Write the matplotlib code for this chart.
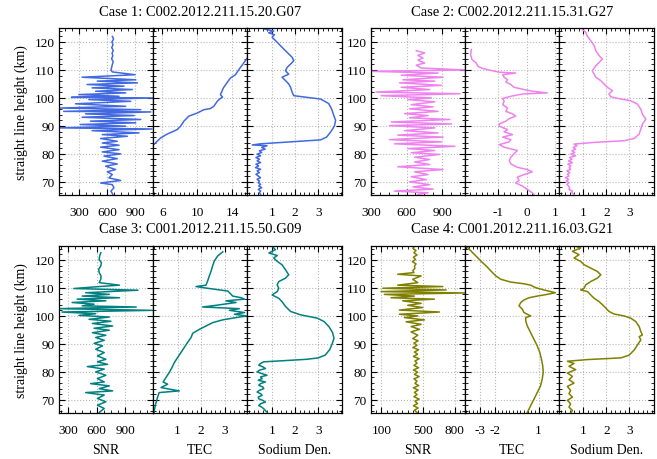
import matplotlib
matplotlib.use('Agg')
import matplotlib.pyplot as plt
from matplotlib.ticker import AutoMinorLocator, MultipleLocator

plt.rcParams['font.family'] = ['Liberation Serif', 'DejaVu Serif']
plt.rcParams['font.size'] = 9.5
plt.rcParams['axes.unicode_minus'] = False

# ---- Case 1: C002.2012.211.15.20.G07 ----
c1_snr_h = [122.0, 121.0, 120.0, 119.0, 118.0, 117.0, 116.0, 115.0, 114.0, 113.0, 112.0, 111.0, 110.0,
            109.3, 108.3, 107.4, 106.5, 106.0, 105.4, 104.8, 104.2, 103.6, 103.0, 102.4, 101.8, 101.2,
            100.6, 100.2, 100.0, 99.4, 98.8, 97.9, 97.0, 96.4, 95.8, 95.2, 95.0, 94.3, 93.7, 93.1, 92.3,
            91.7, 91.1, 90.5, 89.9, 89.3, 88.9, 88.3, 87.5, 86.9, 86.3, 85.5, 84.5, 83.9, 83.1, 82.4,
            81.5, 80.7, 80.0, 79.2, 78.3, 77.4, 76.4, 75.6, 74.4, 73.6, 72.6, 71.4, 70.5, 69.6, 69.0,
            67.9, 66.7, 65.5]
c1_snr = [655, 668, 650, 662, 648, 665, 652, 660, 646, 664, 655, 648, 640,
          654, 900, 329, 907, 492, 925, 383, 781, 437, 871, 474, 799, 293,
          727, 213, 1088, 401, 853, 257, 799, 94, 961, 130, 1070, 365, 889, 329, 961,
          419, 907, 311, 799, 90, 1081, 437, 943, 546, 817, 528, 708, 546, 727, 528,
          727, 546, 745, 564, 708, 546, 708, 582, 690, 600, 654, 618, 745, 528, 654,
          672, 640, 660]
c1_tec_h = [114.3, 112.5, 110.1, 108.3, 107.1, 105.4, 103.6, 101.2, 100.3, 99.7, 98.8, 97.0, 96.2,
            95.8, 94.6, 93.5, 91.7, 89.9, 88.7, 87.1, 85.7, 83.3]
c1_tec = [15.75, 15.33, 14.76, 14.38, 13.8, 13.4, 13.0, 12.66, 12.9, 12.6, 12.29, 11.9, 11.5,
          10.75, 10.0, 9.04, 8.47, 8.09, 7.71, 6.57, 5.8, 5.0]
c1_na_h = [124.7, 123.9, 123.3, 122.6, 121.7, 119.9, 118.1, 116.3, 114.5, 113.3, 112.1, 110.9,
           109.7, 108.5, 107.4, 106.2, 105.0, 103.8, 102.0, 100.8, 100.2, 99.6, 98.0, 96.0, 94.0,
           92.0, 90.0, 88.0, 86.0, 85.0, 84.3, 83.6, 83.2,
           82.9, 82.3, 81.7, 81.1, 80.5, 79.9, 79.3, 78.7, 78.1, 77.5, 76.9, 76.3, 75.7, 75.1,
           74.5, 73.9, 73.3, 72.7, 72.1, 71.5, 70.9, 70.3, 69.7, 69.1, 68.5, 67.9, 67.3, 66.7,
           66.1, 65.5]
c1_na = [0.64, 1.07, 0.85, 1.1, 1.0, 1.22, 1.43, 1.65, 1.87, 1.94, 1.8, 1.65,
         1.58, 1.72, 1.43, 1.58, 1.72, 1.8, 1.87, 1.94, 2.52, 3.1, 3.45, 3.58, 3.66,
         3.75, 3.7, 3.55, 3.36, 3.1, 1.8, 0.5, 0.14,
         0.78, 0.55, 0.7, 0.45, 0.55, 0.35, 0.5, 0.3, 0.45, 0.35, 0.5, 0.3, 0.42, 0.28,
         0.5, 0.35, 0.45, 0.3, 0.4, 0.5, 0.35, 0.45, 0.4, 0.5, 0.42, 0.55, 0.4, 0.5,
         0.45, 0.5]

# ---- Case 2: C002.2012.211.15.31.G27 ----
c2_snr_h = [116.9, 116.1, 115.2, 114.3, 113.5, 112.5, 111.7, 110.7, 110.0, 109.5, 108.9, 108.1,
            107.4, 106.5, 106.0, 105.4, 104.5, 103.8, 103.0, 102.1, 101.5, 100.8, 100.0, 99.4,
            98.6, 97.6, 96.8, 96.1, 95.2, 94.4, 93.7, 92.9, 92.3, 91.4, 90.7, 90.1, 89.3, 88.3,
            87.5, 86.7, 86.0, 85.1, 84.3, 83.6, 82.7, 81.9, 81.2, 80.4, 79.8, 78.8, 78.0, 77.1,
            76.2, 75.4, 74.4, 73.6, 72.6, 71.8, 70.8, 70.0, 69.0, 68.2, 67.4, 66.7, 66.1, 65.5]
c2_snr = [682, 753, 696, 739, 696, 753, 682, 724, 1092, 300, 866, 555,
          908, 569, 838, 541, 894, 555, 795, 342, 1050, 385, 809, 611,
          838, 640, 824, 625, 866, 583, 781, 625, 965, 470, 979, 456, 838, 583,
          866, 526, 908, 456, 894, 498, 1008, 611, 838, 640, 880, 668, 795, 668,
          795, 526, 908, 668, 781, 640, 767, 625, 795, 654, 824, 498, 781, 696]
c2_tec_h = [117.3, 115.5, 113.7, 112.5, 111.3, 110.5, 109.8, 109.2, 108.9, 108.3, 107.4, 106.5,
            105.7, 104.8, 103.8, 103.0, 102.4, 101.8, 101.4, 100.6, 99.8, 98.8, 97.6, 96.4,
            95.2, 94.3, 93.5, 92.6, 91.7, 90.7, 89.9, 88.7, 87.9, 86.9, 86.0, 85.1, 84.3, 83.3,
            82.4, 81.2, 80.0, 78.8, 77.6, 76.4, 75.2, 74.4, 73.6, 72.6, 71.7, 70.5, 69.6, 68.5,
            67.3, 66.1, 65.5]
c2_tec = [-1.96, -1.99, -1.94, -1.79, -1.73, -1.55, -1.26, -0.97, -0.39, -0.85, -0.8, -0.68,
          -0.74, -0.56, -0.45, -0.09, 0.2, 0.73, -0.15, -0.56, -0.85, -0.8, -0.85, -0.68,
          -0.74, -0.5, -0.39, -0.62, -0.74, -0.97, -0.97, -0.68, -0.8, -0.5, -0.85, -0.56, -0.62, -0.97,
          -0.8, -0.33, -0.45, -0.56, -0.62, -0.56, -0.33, 0.02, 0.2, -0.09, -0.33, -0.27, -0.39, -0.15,
          0.02, 0.2, 0.26]
c2_na_h = [124.4, 123.5, 122.0, 120.5, 118.7, 116.9, 115.1, 113.9, 112.7, 111.5, 109.7, 108.5,
           107.4, 106.2, 105.0, 103.8, 102.6, 101.4, 100.4, 99.6, 99.0, 97.8, 96.0, 94.2, 92.4,
           90.6, 88.9, 87.1, 85.5, 84.7, 84.1, 83.5,
           82.9, 82.3, 81.7, 81.1, 80.5, 79.9, 79.3, 78.7, 78.1, 77.5, 76.9, 76.3, 75.7, 75.1,
           74.5, 73.9, 73.3, 72.7, 72.1, 71.5, 70.9, 70.3, 69.7, 69.1, 68.5, 67.9, 67.3, 66.7,
           66.1, 65.5]
c2_na = [0.96, 1.1, 1.18, 1.32, 1.47, 1.54, 1.69, 1.83, 1.69, 1.54, 1.39, 1.47,
         1.54, 1.76, 1.9, 2.05, 2.27, 2.12, 2.2, 2.64, 3.07, 3.36, 3.51, 3.58, 3.73,
         3.58, 3.51, 3.44, 3.22, 2.78, 1.47, 0.59,
         0.72, 0.55, 0.66, 0.5, 0.62, 0.45, 0.66, 0.4, 0.5, 0.35, 0.52, 0.32, 0.45, 0.38,
         0.44, 0.28, 0.4, 0.3, 0.37, 0.22, 0.35, 0.25, 0.37, 0.28, 0.35, 0.4, 0.37, 0.52,
         0.5, 0.59]

# ---- Case 3: C001.2012.211.15.50.G09 ----
c3_snr_h = [122.6, 121.4, 120.2, 119.0, 117.9, 116.7, 115.5, 114.3, 113.1, 111.9, 111.0, 110.5,
            109.8, 109.2, 108.3, 107.7, 107.1, 106.5, 106.0, 105.4, 104.8, 104.2, 103.6, 103.2,
            102.6, 102.0, 101.4, 100.8, 100.2, 99.6, 98.8, 98.1, 97.3, 96.4, 95.6, 94.9, 94.0,
            93.1, 92.3, 91.3, 90.2, 89.3, 88.1, 86.9, 85.7, 84.5, 83.6, 82.7, 81.9, 81.0, 80.0,
            78.8, 77.6, 76.4, 75.8, 75.0, 74.0, 73.2, 72.6, 71.7, 70.5, 69.3, 68.1, 66.9, 65.5]
c3_snr = [642, 630, 625, 648, 642, 620, 625, 645, 642, 625, 837, 625,
          360, 1031, 484, 731, 448, 837, 395, 695, 342, 572, 448, 1013,
          201, 1180, 236, 589, 413, 731, 519, 748, 554, 766, 572, 731, 554,
          695, 589, 678, 572, 660, 589, 678, 607, 695, 607, 713, 501, 678, 589,
          695, 607, 678, 536, 731, 625, 766, 484, 678, 607, 695, 607, 678, 625]
c3_tec_h = [122.9, 121.4, 119.6, 117.9, 116.1, 114.3, 112.5, 111.0, 110.5, 109.8, 108.9, 108.3,
            107.1, 106.5, 106.0, 105.4, 104.8, 103.8, 103.2, 102.6, 102.0, 101.2, 100.6, 100.0,
            99.4, 98.6, 97.6, 96.4, 95.2, 93.8, 92.3, 90.5, 88.7, 86.9, 85.1, 83.3, 81.5, 79.8,
            78.0, 76.4, 75.6, 74.4, 73.2, 72.6, 70.8, 69.0, 67.3, 65.5]
c3_tec = [2.91, 2.69, 2.55, 2.48, 2.42, 2.34, 2.27, 2.2, 1.78, 2.34, 3.12, 3.19,
          3.33, 3.69, 3.83, 3.05, 3.47, 2.63, 2.06, 3.61, 3.19, 3.83, 3.4, 3.9,
          3.47, 2.91, 2.48, 2.2, 1.92, 1.64, 1.57, 1.42, 1.28, 1.14, 1.0, 0.86, 0.76, 0.65,
          0.51, 0.39, 0.58, 0.3, 1.07, 0.22, 0.15, 0.09, 0.04, 0.01]
c3_na_h = [124.9, 123.7, 122.5, 121.6, 120.7, 119.5, 118.3, 116.5, 114.7, 113.5, 112.3, 111.1,
           109.9, 108.7, 107.5, 106.3, 105.1, 103.4, 101.6, 100.4, 99.2, 98.0, 96.2, 94.0,
           92.0, 90.0, 88.0, 86.0, 85.0, 84.5, 84.0, 83.6,
           83.0, 82.4, 81.8, 81.2, 80.6, 80.0, 79.4, 78.8, 78.2, 77.6, 77.0, 76.4, 75.8, 75.2,
           74.6, 74.0, 73.4, 72.8, 72.2, 71.6, 71.0, 70.4, 69.8, 69.2, 68.6, 68.0, 67.4, 66.8,
           66.2, 65.6]
c3_na = [1.0, 1.14, 0.86, 1.22, 1.07, 1.22, 1.43, 1.58, 1.72, 1.58, 1.29, 1.22,
         1.29, 1.22, 1.0, 1.29, 1.43, 1.58, 1.8, 2.23, 2.96, 3.25, 3.46, 3.62,
         3.68, 3.6, 3.5, 3.3, 3.0, 2.5, 1.5, 0.64,
         0.5, 0.42, 0.6, 0.71, 0.45, 0.35, 0.55, 0.78, 0.5, 0.57, 0.4, 0.71, 0.5, 0.42,
         0.6, 0.64, 0.45, 0.35, 0.5, 0.57, 0.4, 0.42, 0.6, 0.71, 0.5, 0.42, 0.55, 0.64,
         0.7, 0.78]

# ---- Case 4: C001.2012.211.16.03.G21 ----
c4_snr_h = [125.0, 124.2, 123.4, 122.6, 121.8, 121.0, 120.2, 119.4, 118.6, 117.8, 117.0, 116.2,
            115.5, 114.9, 114.3, 113.1, 111.9, 111.0, 110.5, 109.9, 109.3, 108.7, 108.2, 107.7,
            107.1, 106.5, 106.0, 105.4, 104.5, 103.8, 103.0, 102.1, 101.4, 100.6, 100.0, 99.4,
            98.6, 97.9, 97.0, 96.2, 95.2, 94.3, 93.1, 91.9,
            91.1, 90.3, 89.5, 88.7, 87.9, 87.1, 86.3, 85.5, 84.7, 83.9, 83.1, 82.3, 81.5, 80.7,
            79.9, 79.1, 78.3, 77.5, 76.7, 75.9, 75.1, 74.3, 73.5, 72.7, 71.9, 71.1, 70.3, 69.5,
            68.7, 67.9, 67.1, 66.3, 65.5]
c4_snr = [420, 400, 430, 410, 440, 405, 425, 395, 430, 415, 420, 400,
          410, 255, 479, 399, 447, 255, 686, 112, 718, 96, 893, 128,
          415, 191, 606, 303, 479, 351, 494, 271, 654, 271, 447, 319,
          510, 335, 479, 383, 463, 383, 447, 399,
          450, 410, 440, 400, 455, 415, 445, 405, 460, 420, 440, 410, 455, 405,
          445, 415, 460, 410, 440, 420, 455, 405, 450, 415, 440, 410, 460, 420,
          445, 405, 450, 415, 440]
c4_tec_h = [125.0, 123.2, 121.4, 119.6, 117.9, 116.1, 114.3, 113.1, 112.1, 111.5, 111.0, 110.1,
            109.3, 108.3, 107.7, 107.1, 106.5, 105.7, 104.8, 103.6, 102.4, 101.2, 100.0, 99.4,
            98.2, 96.4, 94.0, 91.7, 89.3, 86.9, 84.5, 82.1, 79.8, 77.4, 75.0, 72.6, 70.2, 67.9,
            65.5]
c4_tec = [-3.97, -3.63, -3.29, -2.95, -2.6, -2.27, -1.93, -1.59, -0.9, 0.0, 0.46, 0.8,
          1.36, 2.16, 1.59, 0.91, 0.34, 0.0, -0.22, -0.34, -0.11, 0.0, 0.46, 0.12,
          0.12, 0.23, 0.46, 0.68, 0.91, 1.09, 1.2, 1.29, 1.32, 1.25, 1.14, 0.91, 0.68, 0.46,
          0.23]
c4_na_h = [125.1, 124.3, 123.1, 121.9, 120.7, 119.5, 118.3, 117.1, 115.9, 114.7, 113.5, 112.3,
           111.1, 109.9, 109.3, 108.7, 107.5, 106.3, 105.1, 103.4, 101.6, 100.7, 100.0, 99.2,
           98.0, 96.2, 94.4, 93.2, 92.6, 91.4, 89.6, 87.8, 86.0, 85.0, 84.4, 83.8,
           83.0, 82.0, 80.8, 79.6, 78.4, 77.2, 76.0, 74.8, 73.4, 72.2, 71.0, 69.8, 68.6, 67.4,
           66.2, 65.3]
c4_na = [0.59, 0.88, 0.52, 0.81, 0.59, 0.88, 1.03, 1.32, 1.61, 1.76, 1.61, 1.32,
         1.1, 1.03, 0.88, 1.18, 1.32, 1.47, 1.69, 1.91, 2.12, 2.34, 2.78, 3.07,
         3.29, 3.44, 3.51, 3.58, 3.44, 3.51, 3.36, 3.22, 3.0, 2.64, 1.18, 0.3,
         0.59, 0.37, 0.66, 0.3, 0.52, 0.37, 0.59, 0.3, 0.44, 0.37, 0.52, 0.3, 0.44, 0.37,
         0.52, 0.44]

cases = [
    dict(title='Case 1: C002.2012.211.15.20.G07', color='#4169e1', x0=59, y0=29,
         data=[(c1_snr, c1_snr_h), (c1_tec, c1_tec_h), (c1_na, c1_na_h)],
         xlims=[(80, 1095), (4.95, 15.75), (-0.07, 4.01)],
         ticks=[[300, 600, 900], [6, 10, 14], [1, 2, 3]],
         minors=[AutoMinorLocator(), MultipleLocator(0.5), AutoMinorLocator()]),
    dict(title='Case 2: C002.2012.211.15.31.G27', color='#ee82ee', x0=371, y0=29,
         data=[(c2_snr, c2_snr_h), (c2_tec, c2_tec_h), (c2_na, c2_na_h)],
         xlims=[(300, 1095), (-2.18, 1.16), (-0.05, 4.07)],
         ticks=[[300, 600, 900], [-1, 0, 1], [1, 2, 3]],
         minors=[AutoMinorLocator(), AutoMinorLocator(), AutoMinorLocator()]),
    dict(title='Case 3: C001.2012.211.15.50.G09', color='#008080', x0=59, y0=247,
         data=[(c3_snr, c3_snr_h), (c3_tec, c3_tec_h), (c3_na, c3_na_h)],
         xlims=[(205, 1190), (-0.03, 3.95), (-0.07, 4.01)],
         ticks=[[300, 600, 900], [1, 2, 3], [1, 2, 3]],
         minors=[AutoMinorLocator(), AutoMinorLocator(), AutoMinorLocator()]),
    dict(title='Case 4: C001.2012.211.16.03.G21', color='#808000', x0=371, y0=247,
         data=[(c4_snr, c4_snr_h), (c4_tec, c4_tec_h), (c4_na, c4_na_h)],
         xlims=[(0, 900), (-4.03, 2.43), (-0.05, 4.07)],
         ticks=[[100, 500, 800], [-3, -2, 1], [1, 2, 3]],
         minors=[MultipleLocator(50), MultipleLocator(0.25), AutoMinorLocator()]),
]
xlabels = ['SNR', 'TEC', 'Sodium Den.']

W, H = 657, 460
fig = plt.figure(figsize=(W / 100, H / 100), dpi=100)
pw, ph = 94.2, 167

for k, c in enumerate(cases):
    for j in range(3):
        left = c['x0'] + j * pw
        ax = fig.add_axes([left / W, 1 - (c['y0'] + ph) / H, pw / W, ph / H])
        xs, hs = c['data'][j]
        ax.plot(xs, hs, color=c['color'], lw=1.1)
        ax.set_xlim(*c['xlims'][j])
        ax.set_ylim(65.3, 125)
        ax.set_xticks(c['ticks'][j])
        ax.xaxis.set_minor_locator(c['minors'][j])
        ax.set_yticks([70, 80, 90, 100, 110, 120])
        ax.yaxis.set_minor_locator(MultipleLocator(2))
        ax.tick_params(which='both', direction='in', top=True, right=True, labelsize=9.5)
        ax.tick_params(which='major', length=4.5, width=0.8)
        ax.tick_params(which='minor', length=2.2, width=0.6)
        ax.tick_params(axis='x', pad=8)
        ax.tick_params(axis='y', pad=3)
        ax.grid(True, which='major', color='#b8b8b8', linestyle=':', linewidth=0.8)
        for s in ax.spines.values():
            s.set_linewidth(0.9)
        if j > 0:
            ax.tick_params(labelleft=False)
        elif k in (0, 2):
            ax.set_ylabel('straight line height (km)', fontsize=10, labelpad=5)
        if k >= 2:
            ax.set_xlabel(xlabels[j], fontsize=10, labelpad=5)
    fig.text((c['x0'] + 1.5 * pw) / W, 1 - (c['y0'] - 17) / H, c['title'],
             ha='center', va='center', fontsize=10.5)

fig.savefig('out.png', dpi=100)
